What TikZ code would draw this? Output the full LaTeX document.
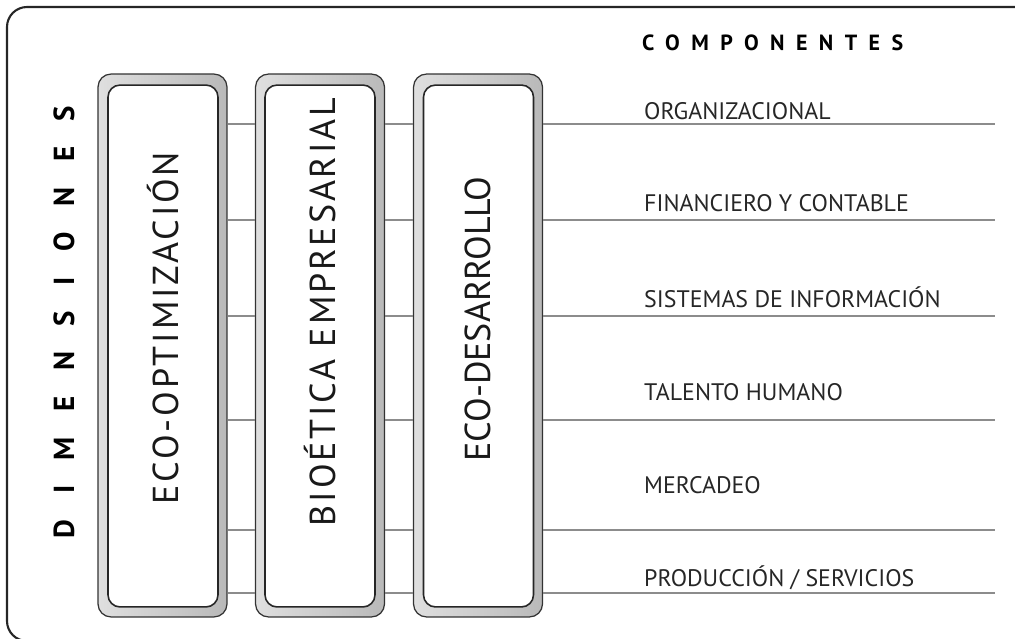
\documentclass[tikz,border=0pt]{standalone}
\usepackage{fontspec}
\setmainfont{PT Sans}
\usetikzlibrary{positioning}

\begin{document}
\begin{tikzpicture}[x=0.02cm, y=-0.02cm,
    boxframe/.style={draw=black!80, line width=0.7pt, rounded corners=0.26cm,
        left color=gray!25, right color=gray!55,
        minimum width=2.58cm, minimum height=10.86cm},
    boxinner/.style={draw=black!85, line width=0.9pt, fill=white, rounded corners=0.24cm,
        minimum width=2.2cm, minimum height=10.44cm},
    conn/.style={draw=black!45, line width=1.3pt},
    comp/.style={anchor=west, text=black!85, font=\fontsize{13.6}{15}\selectfont},
    dimlabel/.style={rotate=90, text=black!90,
        font=\fontsize{20.5}{24}\selectfont\addfontfeatures{LetterSpace=8}}]
    \useasboundingbox (0,0) rectangle (1015,639);

    % Frame
    \draw[line width=1.2pt, black!85, rounded corners=0.4cm] (1040,7) -- (7,7) -- (7,641) -- (1040,641);

    % Titles
    \node[rotate=90, font=\fontsize{16.5}{18}\selectfont\bfseries\addfontfeatures{LetterSpace=88}] (dimensiones) at (64,322) {DIMENSIONES};
    \node[anchor=west, font=\fontsize{12.5}{14}\selectfont\bfseries\addfontfeatures{LetterSpace=52}] (componentes) at (636,43) {COMPONENTES};

    % Boxes
    \node[boxframe] (box-1) at (162.5,345.5) {};
    \node[boxinner] (inner-1) at (163,346) {};
    \node[boxframe] (box-2) at (320,345.5) {};
    \node[boxinner] (inner-2) at (320,346) {};
    \node[boxframe] (box-3) at (478,345.5) {};
    \node[boxinner] (inner-3) at (478.5,346) {};
    \node[dimlabel] (eco-opt) at (163,328) {ECO-OPTIMIZACIÓN};
    \node[dimlabel] (bioetica) at (320,312) {BIOÉTICA EMPRESARIAL};
    \node[dimlabel, font=\fontsize{20.5}{24}\selectfont] (eco-des) at (478,319) {ECO-DESARROLLO};

    % Components
    \node[comp] (comp-1) at (638,111) {ORGANIZACIONAL};
    \node[comp] (comp-2) at (638,203) {FINANCIERO Y CONTABLE};
    \node[comp] (comp-3) at (638,297) {SISTEMAS DE INFORMACIÓN};
    \node[comp] (comp-4) at (638,392) {TALENTO HUMANO};
    \node[comp] (comp-5) at (638,485) {MERCADEO};
    \node[comp] (comp-6) at (638,578) {PRODUCCIÓN / SERVICIOS};

    % Connectors
    \foreach \y [count=\i] in {124,220,316,420,530,593} {
        \coordinate (end-\i) at (995,\y);
        \draw[conn] (box-1.east |- end-\i) -- (box-2.west |- end-\i);
        \draw[conn] (box-2.east |- end-\i) -- (box-3.west |- end-\i);
        \draw[conn] (box-3.east |- end-\i) -- (end-\i);
    }
\end{tikzpicture}
\end{document}
